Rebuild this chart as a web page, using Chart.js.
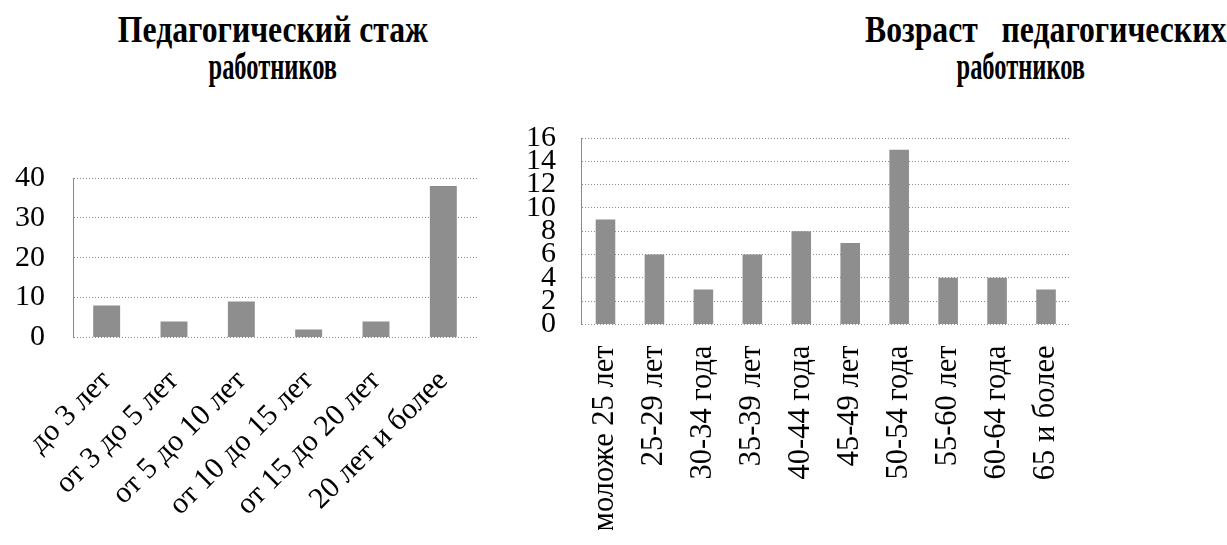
<!DOCTYPE html>
<html>
<head>
<meta charset="utf-8">
<script src="https://cdn.jsdelivr.net/npm/chart.js@4/dist/chart.umd.min.js"></script>
<style>
  html, body { margin: 0; padding: 0; background: #fff; }
  body { width: 1227px; height: 545px; position: relative; overflow: hidden; }
  .t { position: absolute; font-family: "Liberation Serif", "Times New Roman", serif; font-weight: bold;
       font-size: 38px; line-height: 38px; color: #000; white-space: pre; z-index: 2; }
  canvas { position: absolute; top: 0; }
</style>
</head>
<body>
<div class="t" id="t1a">Педагогический стаж</div>
<div class="t" id="t1b">работников</div>
<div class="t" id="t2a">Возраст   педагогических</div>
<div class="t" id="t2b">работников</div>
<canvas id="c1" width="560" height="620" style="left:0px"></canvas>
<canvas id="c2" width="727" height="620" style="left:500px"></canvas>
<script>
// ---- data ----
const stazhCategories = ['до 3 лет', 'от 3 до 5 лет', 'от 5 до 10 лет', 'от 10 до 15 лет', 'от 15 до 20 лет', '20 лет и более'];
const stazhValues = [8, 4, 9, 2, 4, 38];
const stazhTicks = [0, 10, 20, 30, 40];

const ageCategories = ['моложе 25 лет', '25-29 лет', '30-34 года', '35-39 лет', '40-44 года', '45-49 лет', '50-54 года', '55-60 лет', '60-64 года', '65 и более'];
const ageValues = [9, 6, 3, 6, 8, 7, 15, 4, 4, 3];
const ageTicks = [0, 2, 4, 6, 8, 10, 12, 14, 16];

// ---- titles ----
function placeTitle(id, x, top, align, sx) {
  const el = document.getElementById(id);
  el.style.top = top + 'px';
  const w = el.offsetWidth;
  if (align === 'left') {
    el.style.transformOrigin = 'left top';
    el.style.left = x + 'px';
  } else {
    el.style.transformOrigin = 'center top';
    el.style.left = (x - w / 2) + 'px';
  }
  el.style.transform = 'scaleX(' + sx + ')';
}
placeTitle('t1a', 273, 10, 'center', 0.834);
placeTitle('t1b', 273, 47, 'center', 0.644);
placeTitle('t2a', 865, 10, 'left', 0.834);
placeTitle('t2b', 1021, 47, 'center', 0.644);

const SERIF = '"Liberation Serif", "Times New Roman", serif';
const barColor = '#8e8e8e';
const gridColor = '#8a8a8a';

function makeChart(canvasId, labels, values, ticksArr, cfg) {
  return new Chart(document.getElementById(canvasId), {
    type: 'bar',
    data: {
      labels: labels,
      datasets: [{
        data: values,
        backgroundColor: barColor,
        borderWidth: 0,
        categoryPercentage: 1,
        barPercentage: 0.4
      }]
    },
    options: {
      responsive: false,
      devicePixelRatio: 1,
      animation: false,
      layout: { padding: { left: 10, right: 0, top: 24, bottom: 0 } },
      plugins: { legend: { display: false }, title: { display: false }, tooltip: { enabled: false } },
      scales: {
        x: {
          grid: { display: false, drawTicks: false },
          border: { display: false },
          ticks: {
            color: '#000',
            font: { family: SERIF, size: cfg.xFont },
            minRotation: cfg.rot, maxRotation: cfg.rot,
            autoSkip: false,
            padding: cfg.xPad
          }
        },
        y: {
          min: 0, max: ticksArr[ticksArr.length - 1],
          afterBuildTicks: (axis) => { axis.ticks = ticksArr.map(v => ({ value: v })); },
          grid: { color: gridColor, lineWidth: 1, drawTicks: false, tickBorderDash: [1, 2] },
          border: { display: true, color: gridColor, dash: [1, 2] },
          ticks: {
            color: '#000',
            font: { family: SERIF, size: cfg.yFont },
            autoSkip: false,
            padding: cfg.yPad
          }
        }
      }
    }
  });
}

// place plot areas: adjust padding so the plot area has the wanted size, then offset the canvas
function fitChart(chart, target) {
  for (let i = 0; i < 4; i++) {
    const ca = chart.chartArea;
    const p = chart.options.layout.padding;
    p.right += (ca.right - ca.left) - (target.right - target.left);
    p.bottom += (ca.bottom - ca.top) - (target.bottom - target.top);
    chart.update();
  }
  const ca = chart.chartArea;
  chart.canvas.style.left = (target.left - ca.left) + 'px';
  chart.canvas.style.top = (target.top - ca.top) + 'px';
}

const ch1 = makeChart('c1', stazhCategories, stazhValues, stazhTicks,
  { xFont: 30, yFont: 30, rot: 45, xPad: 26, yPad: 28 });
const ch2 = makeChart('c2', ageCategories, ageValues, ageTicks,
  { xFont: 30.5, yFont: 30, rot: 90, xPad: 21, yPad: 25 });
fitChart(ch1, { left: 73, right: 477, top: 178, bottom: 335.5 });
fitChart(ch2, { left: 580.5, right: 1070, top: 137.5, bottom: 322.5 });
</script>
</body>
</html>
